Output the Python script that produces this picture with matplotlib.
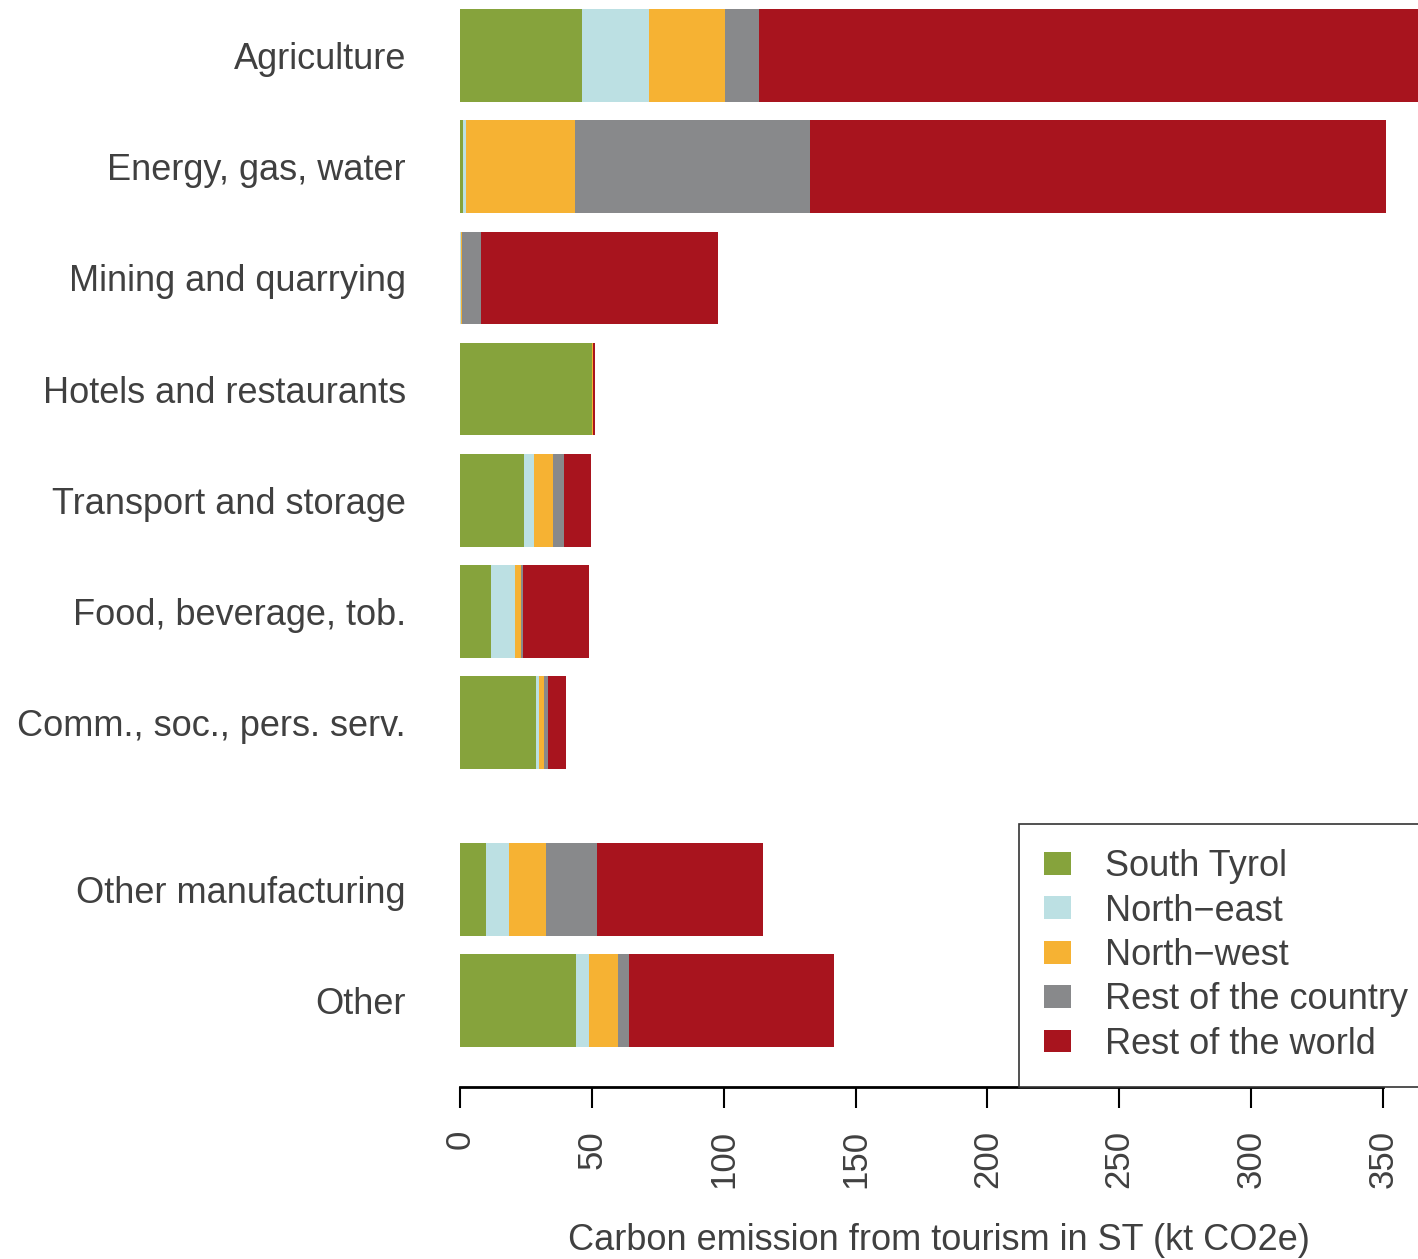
import matplotlib
matplotlib.use('Agg')
import matplotlib.pyplot as plt
from matplotlib.patches import Patch
import numpy as np

plt.rcParams['font.family'] = ['Liberation Sans', 'DejaVu Sans']

sectors = ['Agriculture', 'Energy, gas, water', 'Mining and quarrying',
           'Hotels and restaurants', 'Transport and storage', 'Food, beverage, tob.',
           'Comm., soc., pers. serv.', 'Other manufacturing', 'Other']
# bar positions (R barplot style, extra space before the last two)
positions = [0.0, 1.2, 2.4, 3.6, 4.8, 6.0, 7.2, 9.0, 10.2]

regions = ['South Tyrol', 'North\u2212east', 'North\u2212west', 'Rest of the country', 'Rest of the world']
south_tyrol = [46.3, 1.1, 0.0, 50.1, 24.3, 11.8, 28.8, 9.9, 44.0]
north_east  = [25.4, 1.1, 0.4, 0.0, 3.8, 9.1, 1.1, 8.7, 4.9]
north_west  = [28.8, 41.3, 0.4, 0.4, 7.2, 2.3, 1.9, 14.0, 11.0]
rest_country = [12.9, 89.1, 7.2, 0.0, 4.2, 0.8, 1.5, 19.3, 4.2]
rest_world  = [255.0, 218.4, 89.9, 0.8, 10.2, 25.0, 6.8, 62.9, 77.8]

colors = ['#86A33C', '#BCE0E3', '#F6B233', '#88898B', '#A8141E']
text_col = '#404040'
fs = 26

fig = plt.figure(figsize=(14.18, 12.59), dpi=100)
ax = fig.add_axes([460 / 1418, 1 - 1087 / 1259, 958 / 1418, 1087 / 1259])

series = [south_tyrol, north_east, north_west, rest_country, rest_world]
left = np.zeros(len(sectors))
for vals, col in zip(series, colors):
    vals = np.array(vals)
    ax.barh(positions, vals, left=left, height=1.0, color=col, linewidth=0)
    left += vals

ax.set_xlim(0, 958 / 2.637)
ax.set_ylim(10.2 + 86.5 / 92.5, -55.5 / 92.5)

for s in ['top', 'right', 'left']:
    ax.spines[s].set_visible(False)
ax.spines['bottom'].set_bounds(0, 350)
ax.spines['bottom'].set_linewidth(2)

ax.set_xticks(np.arange(0, 351, 50))
ax.set_xticklabels([str(v) for v in range(0, 351, 50)], rotation=90, va='top', ha='center')
ax.tick_params(axis='x', length=15, width=1.5, pad=16, labelsize=25, labelcolor=text_col)
ax.set_yticks(positions)
ax.set_yticklabels(sectors)
ax.tick_params(axis='y', length=0, pad=39, labelsize=fs, labelcolor=text_col)

fig.text(939 / 1418, 1 - 1241 / 1259, 'Carbon emission from tourism in ST (kt CO2e)',
         fontsize=fs, color=text_col, ha='center', va='center')

handles = [Patch(facecolor=c, edgecolor='none') for c in colors]
leg = ax.legend(handles, regions, loc='lower left', bbox_to_anchor=((1019 - 460) / 958, 0),
                fontsize=fs, frameon=True, fancybox=False, edgecolor='#333333',
                framealpha=1, borderpad=0.7, labelspacing=0.26, handlelength=0.75,
                handleheight=0.6, handletextpad=0.92, borderaxespad=0)
leg.get_frame().set_linewidth(1.2)
for t in leg.get_texts():
    t.set_color(text_col)

fig.savefig('out.png', dpi=100)
